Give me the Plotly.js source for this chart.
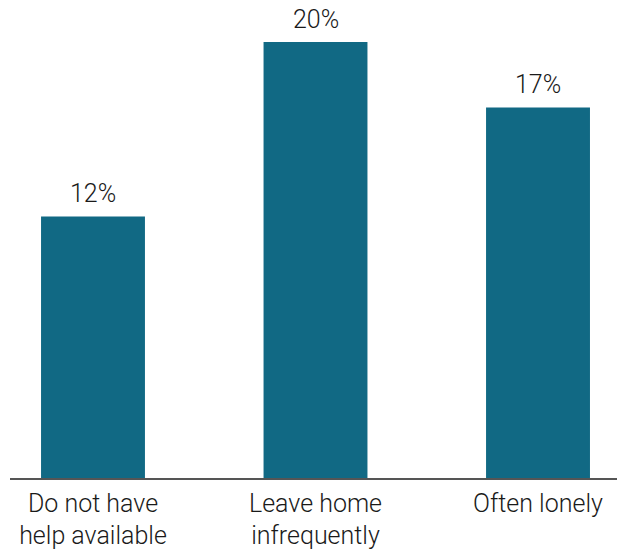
<!DOCTYPE html>
<html>
<head>
<meta charset="utf-8">
<script src="https://cdn.plot.ly/plotly-3.0.1.min.js"></script>
<style>html,body{margin:0;padding:0;background:#fff;}#chart{width:627px;height:552px;}</style>
</head>
<body>
<div id="chart"></div>
<script>
const categories = ["Do not have<br>help available", "Leave home<br>infrequently", "Often lonely"];
const values = [12, 20, 17];
const valueLabels = ["12%", "20%", "17%"];

const FONT = "Roboto, Liberation Sans, Arial, sans-serif";

const trace = {
  type: "bar",
  x: categories,
  y: values,
  marker: {color: "#116984"},
  width: 0.467,
  hoverinfo: "none"
};

const annotations = categories.map((c, i) => ({
  x: c,
  y: values[i],
  xref: "x",
  yref: "y",
  text: valueLabels[i],
  showarrow: false,
  yanchor: "bottom",
  yshift: 6,
  font: {family: FONT, size: 25, color: "#1a1a1a", weight: 300}
}));

const layout = {
  width: 627,
  height: 552,
  margin: {l: 10, r: 10, t: 0, b: 74},
  paper_bgcolor: "#ffffff",
  plot_bgcolor: "#ffffff",
  showlegend: false,
  font: {family: FONT, size: 25, color: "#1a1a1a", weight: 300},
  annotations: annotations,
  xaxis: {
    type: "category",
    range: [-0.373, 2.355],
    showline: true,
    linecolor: "#555555",
    linewidth: 1.5,
    ticks: "",
    ticklabelstandoff: 2,
    showgrid: false,
    zeroline: false,
    tickfont: {family: FONT, size: 25, color: "#1a1a1a", weight: 300},
    fixedrange: true
  },
  yaxis: {
    range: [0, 21.93],
    visible: false,
    showgrid: false,
    zeroline: false,
    fixedrange: true
  }
};

Plotly.newPlot("chart", [trace], layout, {staticPlot: true, displayModeBar: false});
</script>
</body>
</html>
